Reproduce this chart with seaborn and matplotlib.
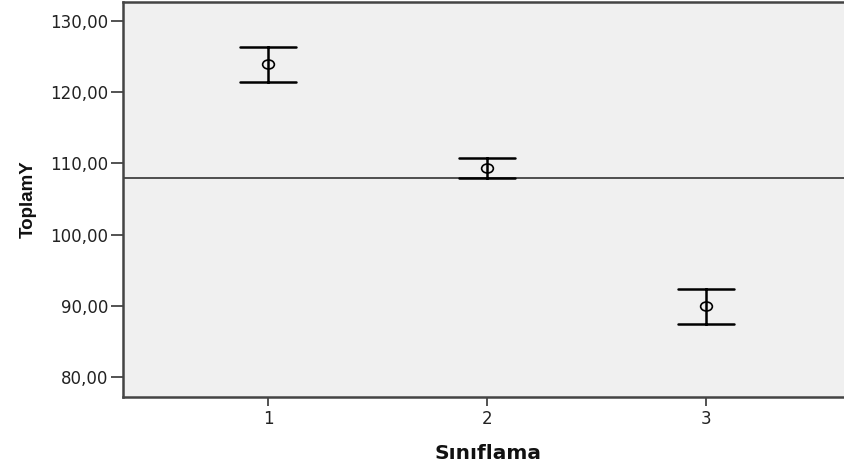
import numpy as np
import pandas as pd
import matplotlib
matplotlib.use("Agg")
import matplotlib.pyplot as plt
from matplotlib.markers import MarkerStyle
from matplotlib.transforms import Affine2D
import seaborn as sns

# values (group means with interval ends)
groups = [1, 2, 3]
means = [123.9, 109.4, 90.0]
lower = [121.5, 107.9, 87.5]
upper = [126.3, 110.8, 92.4]
grand_mean = 108.0
y_ticks = [80, 90, 100, 110, 120, 130]

# three rows per group: median -> mean, full percentile range -> interval
rows = []
for g, m, lo, hi in zip(groups, means, lower, upper):
    for v in (lo, m, hi):
        rows.append({"Sınıflama": g, "ToplamY": v})
df = pd.DataFrame(rows)

sns.set_theme(style="ticks")
plt.rcParams["font.family"] = ["DejaVu Sans"]

edge = "#444444"
fig = plt.figure(figsize=(8.45, 4.63), dpi=100)
ax = fig.add_axes([123 / 845, 66 / 463, 730 / 845, 395 / 463])
ax.set_facecolor("#f0f0f0")

ax.axhline(grand_mean, color="#333333", linewidth=1.2, zorder=1)

circ = MarkerStyle("o", fillstyle="none", transform=Affine2D().scale(1.3, 1.0))
sns.pointplot(data=df, x="Sınıflama", y="ToplamY", native_scale=True,
              estimator="median", errorbar=("pi", 100), capsize=0.256,
              color="black", markers=circ, linestyles="none",
              markersize=6.5, markeredgewidth=1.2,
              err_kws={"linewidth": 1.8}, ax=ax)

ax.set_xlim(0.336, 3.673)
ax.set_ylim(77.19, 132.67)
ax.set_xticks(groups)
ax.set_xticklabels([str(g) for g in groups])
ax.set_yticks(y_ticks)
ax.set_yticklabels([f"{t},00" for t in y_ticks])

for s in ax.spines.values():
    s.set_color(edge)
    s.set_linewidth(1.8)
ax.tick_params(axis="y", length=9, width=1.3, pad=1.5, colors=edge,
               labelsize=12, labelcolor="#222222")
ax.tick_params(axis="x", length=6.5, width=1.3, pad=3, colors=edge,
               labelsize=12, labelcolor="#222222")

ax.set_xlabel("Sınıflama", fontsize=14.5, fontweight="bold", color="#111111")
ax.set_ylabel("ToplamY", fontsize=13.5, fontweight="bold", color="#111111",
              family=["Liberation Sans", "DejaVu Sans"])
ax.xaxis.set_label_coords(0.5, -0.118)
ax.yaxis.set_label_coords(-0.118, 0.5)

fig.savefig("out.png", dpi=100)
